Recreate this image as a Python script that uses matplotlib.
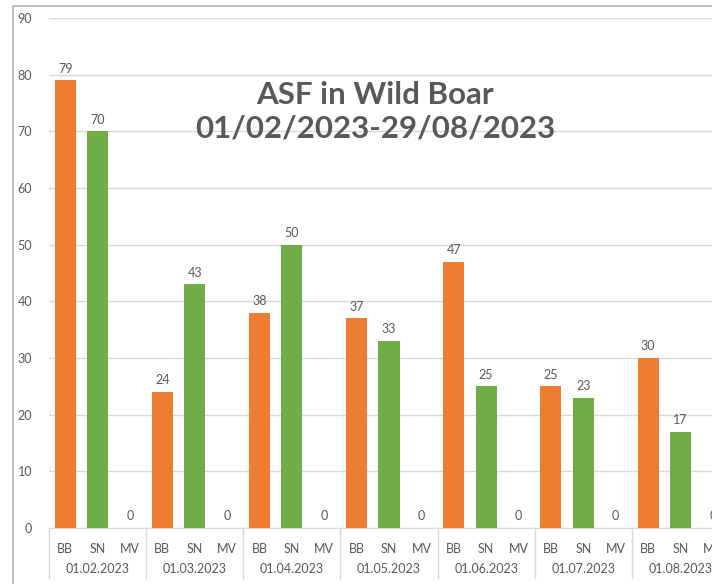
import matplotlib
matplotlib.use("Agg")
import matplotlib.pyplot as plt
from matplotlib.lines import Line2D
from matplotlib.patches import Rectangle
import matplotlib.transforms as mtransforms

months = ["01.02.2023", "01.03.2023", "01.04.2023", "01.05.2023",
          "01.06.2023", "01.07.2023", "01.08.2023"]
states = ["BB", "SN", "MV"]
bb = [79, 24, 38, 37, 47, 25, 30]
sn = [70, 43, 50, 33, 25, 23, 17]
mv = [0, 0, 0, 0, 0, 0, 0]
title = "ASF in Wild Boar\n01/02/2023-29/08/2023"
yticks = [0, 10, 20, 30, 40, 50, 60, 70, 80, 90]

ORANGE = "#ED7D31"
GREEN = "#70AD47"
TXT = "#595959"
GRID = "#D9D9D9"

W, H = 712, 584
fig = plt.figure(figsize=(W / 100, H / 100), dpi=100)
plt.rcParams['font.family'] = ['Lato', 'DejaVu Sans']

# plot area extends past the right edge (reference is cropped)
ax = fig.add_axes([49 / W, 1 - 528 / H, (729 - 49) / W, (528 - 18) / H])

n = len(months)
positions = []
colors = []
values = []
labels = []
for i in range(n):
    for j, (s, arr, c) in enumerate(zip(states, [bb, sn, mv], [ORANGE, GREEN, GREEN])):
        positions.append(i * 3 + j)
        values.append(arr[i])
        colors.append(c)
        labels.append(s)

ax.bar(positions, values, width=0.65, color=colors, zorder=3)
for p, v in zip(positions, values):
    ax.annotate(str(v), (p, v), xytext=(0, 4), textcoords="offset points",
                ha="center", va="bottom", fontsize=9, color=TXT)

ax.set_xlim(-0.5, n * 3 - 0.5)
ax.set_ylim(0, 90)
ax.set_yticks(yticks)
ax.yaxis.grid(True, color=GRID, linewidth=1, zorder=0)
ax.set_axisbelow(True)
for sp in ["top", "right", "left"]:
    ax.spines[sp].set_visible(False)
ax.spines["bottom"].set_color(GRID)
ax.tick_params(axis="y", length=0, pad=12, labelsize=9, labelcolor=TXT)
ax.set_xticks(positions)
ax.set_xticklabels(labels)
ax.tick_params(axis="x", length=0, pad=11, labelsize=9, labelcolor=TXT)

trans = mtransforms.blended_transform_factory(ax.transData, ax.transAxes)
for i in range(n):
    ax.text(i * 3 + 1, -0.08, months[i], transform=trans, ha="center", va="center",
            fontsize=9, color=TXT, clip_on=False)
for i in range(n + 1):
    ax.add_line(Line2D([i * 3 - 0.5, i * 3 - 0.5], [0, -0.098], transform=trans,
                       color=GRID, linewidth=1, clip_on=False))

fig.text(375 / W, 1 - 112 / H, title, ha="center", va="center", fontsize=22.5,
         fontweight="bold", color=TXT, linespacing=1.25)

# outer chart frame
fig.add_artist(Rectangle((13 / W, -0.1), 1.2, 1 - 6 / H + 0.1, transform=fig.transFigure,
                         fill=False, edgecolor="#BFBFBF", linewidth=1.5))

fig.savefig("out.png", dpi=100, facecolor="white")
